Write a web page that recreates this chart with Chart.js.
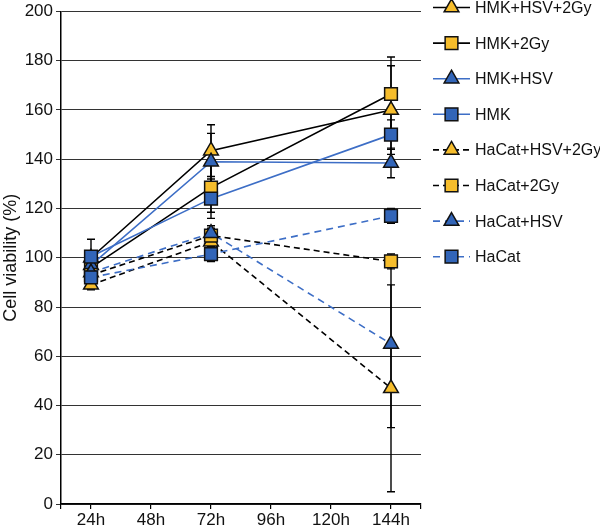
<!DOCTYPE html>
<html>
<head>
<meta charset="utf-8">
<script src="https://cdn.jsdelivr.net/npm/chart.js@4.4.1/dist/chart.umd.min.js"></script>
<style>
  html, body { margin: 0; padding: 0; background: #fff; }
</style>
</head>
<body>
<canvas id="viabilityChart" width="600" height="532"></canvas>
<script>
// time points with data (hours) and axis labels
const hours = [24, 72, 144];
const tickHours = [24, 48, 72, 96, 120, 144];
const tickLabels = ['24h', '48h', '72h', '96h', '120h', '144h'];

const seriesNames = ['HMK+HSV+2Gy', 'HMK+2Gy', 'HMK+HSV', 'HMK',
  'HaCat+HSV+2Gy', 'HaCat+2Gy', 'HaCat+HSV', 'HaCat'];

// cell viability (%) at 24h, 72h, 144h
const hmkHsv2Gy = [100, 143.5, 160];
const hmk2Gy = [96, 128.5, 166.5];
const hmkHsv = [97, 139, 138.5];
const hmk = [100.5, 124, 150];
const hacatHsv2Gy = [89, 106.5, 47];
const hacat2Gy = [93, 109, 98.5];
const hacatHsv = [94, 110, 65];
const hacat = [92, 101.5, 117];

// error bars (+/-)
const errHmkHsv2Gy = [2, 10.5, 18];
const errHmk2Gy = [2, 10, 15];
const errHmkHsv = [2, 11.5, 6];
const errHmk = [7, 8, 6];
const errHacatHsv2Gy = [2, 3, 42];
const errHacat2Gy = [2, 3, 3];
const errHacatHsv = [2, 3, 34];
const errHacat = [2, 3, 3];

const yellow = '#f6bd2c';
const blueFill = '#3265b8';
const blueLine = '#3d6ec6';

function makeSet(i, values, errors, lineColor, fill, shape, dashed) {
  return {
    label: seriesNames[i],
    data: hours.map((h, k) => ({ x: h, y: values[k] })),
    errors: errors,
    borderColor: lineColor,
    borderWidth: 1.6,
    borderDash: dashed ? (lineColor === '#000' ? [6, 4] : [7, 5]) : [],
    backgroundColor: fill,
    pointStyle: shape,
    pointRadius: shape === 'rect' ? 9 : 8.5,
    pointBackgroundColor: fill,
    pointBorderColor: '#111',
    pointBorderWidth: 1.5,
    tension: 0,
    fill: false
  };
}

const datasets = [
  makeSet(7, hacat, errHacat, blueLine, blueFill, 'rect', true),
  makeSet(6, hacatHsv, errHacatHsv, blueLine, blueFill, 'triangle', true),
  makeSet(5, hacat2Gy, errHacat2Gy, '#000', yellow, 'rect', true),
  makeSet(4, hacatHsv2Gy, errHacatHsv2Gy, '#000', yellow, 'triangle', true),
  makeSet(3, hmk, errHmk, blueLine, blueFill, 'rect', false),
  makeSet(2, hmkHsv, errHmkHsv, blueLine, blueFill, 'triangle', false),
  makeSet(1, hmk2Gy, errHmk2Gy, '#000', yellow, 'rect', false),
  makeSet(0, hmkHsv2Gy, errHmkHsv2Gy, '#000', yellow, 'triangle', false)
];

// vertical error bars, drawn under the markers
const errorBars = {
  id: 'errorBars',
  beforeDatasetsDraw(chart) {
    const ctx = chart.ctx;
    const y = chart.scales.y;
    ctx.save();
    ctx.strokeStyle = '#000';
    ctx.lineWidth = 1.4;
    chart.data.datasets.forEach((ds, i) => {
      const meta = chart.getDatasetMeta(i);
      meta.data.forEach((pt, k) => {
        const v = ds.data[k].y, e = ds.errors[k];
        const top = y.getPixelForValue(v + e);
        const bot = y.getPixelForValue(v - e);
        ctx.beginPath();
        ctx.moveTo(pt.x, top); ctx.lineTo(pt.x, bot);
        ctx.moveTo(pt.x - 4, top); ctx.lineTo(pt.x + 4, top);
        ctx.moveTo(pt.x - 4, bot); ctx.lineTo(pt.x + 4, bot);
        ctx.stroke();
      });
    });
    ctx.restore();
  }
};

// legend on the right: line sample with marker, then the name
const sideLegend = {
  id: 'sideLegend',
  afterDraw(chart) {
    const ctx = chart.ctx;
    ctx.save();
    seriesNames.forEach((name, n) => {
      const ds = chart.data.datasets.find(d => d.label === name);
      const cy = 7.5 + n * 35.6;
      ctx.strokeStyle = ds.borderColor;
      ctx.lineWidth = ds.borderWidth;
      ctx.setLineDash(ds.borderDash);
      ctx.beginPath();
      ctx.moveTo(433, cy); ctx.lineTo(470, cy);
      ctx.stroke();
      ctx.setLineDash([]);
      ctx.fillStyle = ds.pointBackgroundColor;
      ctx.strokeStyle = ds.pointBorderColor;
      ctx.lineWidth = ds.pointBorderWidth;
      Chart.helpers.drawPoint(ctx, { pointStyle: ds.pointStyle, radius: ds.pointRadius, borderWidth: ds.pointBorderWidth }, 451.5, cy);
      ctx.fillStyle = '#111';
      ctx.font = '16px "Liberation Sans", Arial, sans-serif';
      ctx.textBaseline = 'middle';
      ctx.fillText(name, 475, cy + 1);
    });
    ctx.restore();
  }
};

new Chart(document.getElementById('viabilityChart'), {
  type: 'line',
  data: { datasets: datasets },
  plugins: [errorBars, sideLegend],
  options: {
    responsive: false,
    animation: false,
    layout: { padding: { left: 0, right: 179, top: 0, bottom: 0 } },
    plugins: { legend: { display: false }, tooltip: { enabled: false } },
    scales: {
      x: {
        type: 'linear',
        min: 12,
        max: 156,
        afterBuildTicks(scale) {
          scale.ticks = [12, ...tickHours, 156].map(v => ({ value: v }));
        },
        ticks: {
          autoSkip: false,
          maxRotation: 0,
          padding: 3,
          color: '#111',
          font: { family: '"Liberation Sans", Arial, sans-serif', size: 17, lineHeight: 1 },
          callback(value) {
            const i = tickHours.indexOf(value);
            return i >= 0 ? tickLabels[i] : '';
          }
        },
        grid: { drawOnChartArea: false, drawTicks: true, tickLength: 5, color: '#000', lineWidth: 1.2 },
        border: { color: '#000', width: 1.5 }
      },
      y: {
        min: 0,
        max: 200,
        afterFit(scale) { scale.width = 61; },
        ticks: {
          stepSize: 20,
          padding: 3,
          color: '#111',
          font: { family: '"Liberation Sans", Arial, sans-serif', size: 17, lineHeight: 1 }
        },
        grid: { color: '#333', lineWidth: 1, tickLength: 5, drawTicks: true },
        border: { color: '#000', width: 1.5 },
        title: {
          display: true,
          text: 'Cell viability (%)',
          color: '#111',
          padding: 0,
          font: { family: '"Liberation Sans", Arial, sans-serif', size: 18 }
        }
      }
    }
  }
});
</script>
</body>
</html>
